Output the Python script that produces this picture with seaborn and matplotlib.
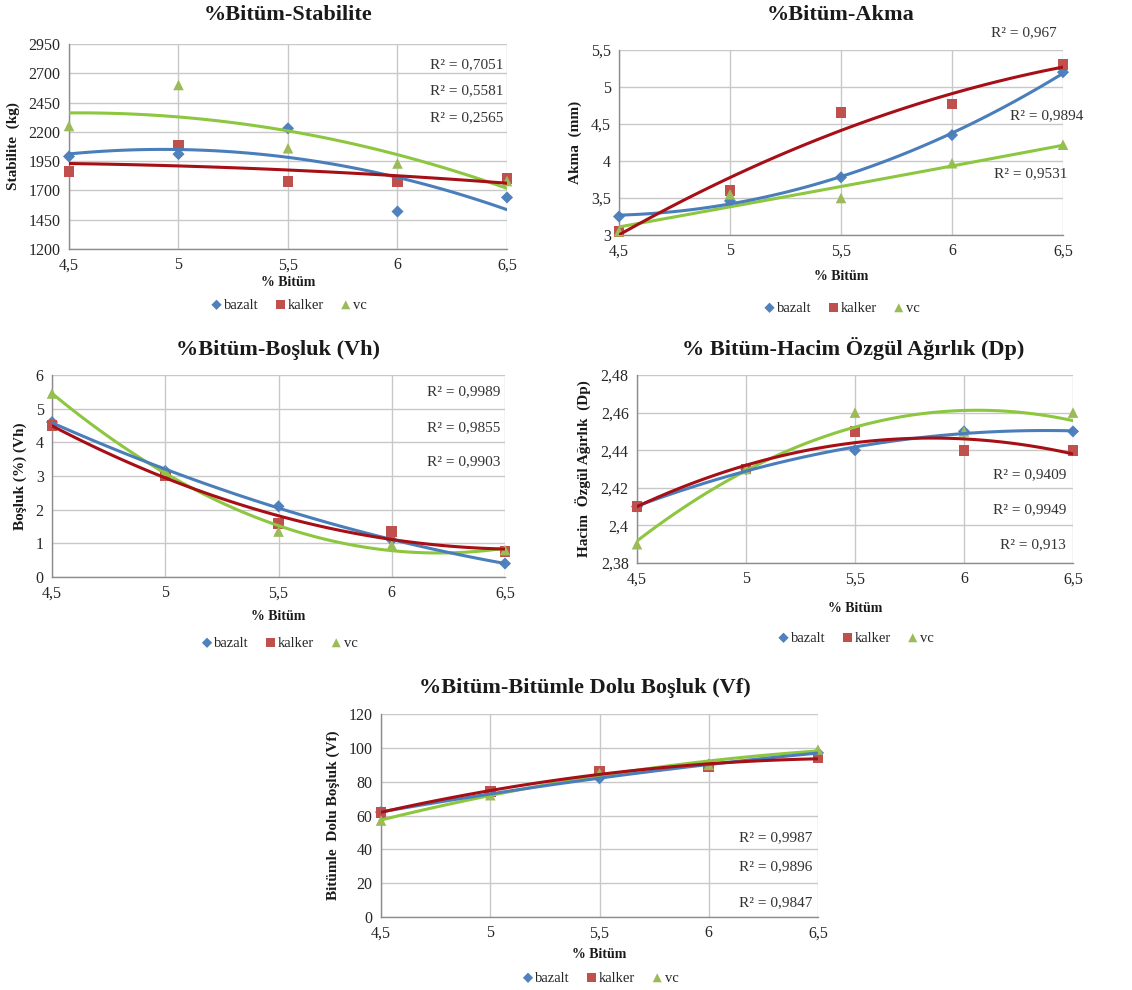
import numpy as np
import pandas as pd
import matplotlib
matplotlib.use("Agg")
import matplotlib.pyplot as plt
import seaborn as sns
from matplotlib.ticker import FuncFormatter, MultipleLocator, FixedLocator

# X values (% Bitüm)
bitum = [4.5, 5.0, 5.5, 6.0, 6.5]

# Stabilite (kg)
stab_bazalt = [1990, 2010, 2230, 1520, 1640]
stab_kalker = [1860, 2080, 1780, 1780, 1800]
stab_vc = [2250, 2600, 2060, 1930, 1780]
stab_r2 = ["0,7051", "0,5581", "0,2565"]

# Akma (mm)
akma_bazalt = [3.25, 3.46, 3.78, 4.35, 5.2]
akma_kalker = [3.05, 3.6, 4.65, 4.77, 5.3]
akma_vc = [3.05, 3.55, 3.5, 3.97, 4.22]
akma_r2 = ["0,967", "0,9894", "0,9531"]

# Boşluk (Vh)
vh_bazalt = [4.6, 3.15, 2.1, 1.1, 0.4]
vh_kalker = [4.5, 3.0, 1.6, 1.35, 0.75]
vh_vc = [5.45, 3.15, 1.35, 0.95, 0.8]
vh_r2 = ["0,9989", "0,9855", "0,9903"]

# Hacim Özgül Ağırlık (Dp)
dp_bazalt = [2.41, 2.43, 2.44, 2.45, 2.45]
dp_kalker = [2.41, 2.43, 2.45, 2.44, 2.44]
dp_vc = [2.39, 2.43, 2.46, 2.45, 2.46]
dp_r2 = ["0,9409", "0,9949", "0,913"]

# Bitümle Dolu Boşluk (Vf)
vf_bazalt = [62, 73, 82, 90, 97]
vf_kalker = [62, 74, 86, 89, 94]
vf_vc = [57, 72, 85, 90, 99]
vf_r2 = ["0,9987", "0,9896", "0,9847"]

W, H = 1132, 990
SERIF = ["Liberation Serif", "DejaVu Serif"]

sns.set_theme(style="white")
plt.rcParams["font.family"] = SERIF

marker_colors = {"bazalt": "#4F81BD", "kalker": "#C0504D", "vc": "#9BBB59"}
line_colors = {"bazalt": "#4A7EBB", "kalker": "#A50F15", "vc": "#8DC63F"}
markers = {"bazalt": "D", "kalker": "s", "vc": "^"}
sizes = {"bazalt": 38, "kalker": 62, "vc": 58}


def comma(v, pos=None):
    s = f"{round(v, 6):g}"
    return s.replace(".", ",")


def make_axes(left, top, right, bottom):
    return fig.add_axes([left / W, 1 - bottom / H, (right - left) / W, (bottom - top) / H])


def draw(ax, box, series, ylim, ystep, title, ylabel, r2, r2_pos,
         title_y, xlabel_y, legend_y, title_x=None):
    left, top, right, bottom = box
    df = pd.DataFrame({
        "x": bitum * 3,
        "y": series[0] + series[1] + series[2],
        "malzeme": ["bazalt"] * 5 + ["kalker"] * 5 + ["vc"] * 5,
    })
    for name in ["bazalt", "kalker", "vc"]:
        sub = df[df.malzeme == name]
        sns.scatterplot(data=sub, x="x", y="y", marker=markers[name],
                        color=marker_colors[name], s=sizes[name],
                        edgecolor="none", ax=ax, zorder=3, clip_on=False,
                        label=name)
    for name in ["vc", "bazalt", "kalker"]:
        sub = df[df.malzeme == name]
        sns.regplot(data=sub, x="x", y="y", order=2, ci=None, scatter=False,
                    ax=ax, line_kws=dict(color=line_colors[name], lw=2.2, zorder=4))

    ax.set_xlim(4.5, 6.5)
    ax.set_ylim(*ylim)
    ax.xaxis.set_major_locator(MultipleLocator(0.5))
    ax.yaxis.set_major_locator(FixedLocator(np.arange(ylim[0], ylim[1] + ystep / 2, ystep)))
    ax.xaxis.set_major_formatter(FuncFormatter(comma))
    ax.yaxis.set_major_formatter(FuncFormatter(comma))
    ax.grid(True, color="#C8C8C8", lw=1)
    ax.set_axisbelow(True)
    for s in ["top", "right"]:
        ax.spines[s].set_visible(False)
    for s in ["left", "bottom"]:
        ax.spines[s].set_color("#8C8C8C")
        ax.spines[s].set_linewidth(1)
    ax.tick_params(axis="both", labelsize=11.5, length=0, pad=6, colors="#404040")
    for lab in ax.get_xticklabels() + ax.get_yticklabels():
        lab.set_color("#262626")
    ax.set_xlabel("")
    ax.set_ylabel(ylabel, fontsize=11, fontweight="bold", color="#1a1a1a", labelpad=6)

    cx = (left + right) / 2 if title_x is None else title_x
    fig.text(cx / W, 1 - title_y / H, title, ha="center", va="center",
             fontsize=16, fontweight="bold", color="#1a1a1a")
    fig.text((left + right) / 2 / W, 1 - xlabel_y / H, "% Bitüm", ha="center",
             va="center", fontsize=10, fontweight="bold", color="#1a1a1a")
    for txt, (px, py) in zip(r2, r2_pos):
        fig.text(px / W, 1 - py / H, f"R² = {txt}", ha="right", va="center",
                 fontsize=11, color="#333333")

    handles, labels = ax.get_legend_handles_labels()
    ax.legend(handles, labels, loc="center",
              bbox_to_anchor=(((left + right) / 2 - left) / (right - left),
                              (bottom - legend_y) / (bottom - top)),
              ncol=3, frameon=False, fontsize=10.5, handletextpad=0.0,
              columnspacing=1.0, markerscale=0.85, handlelength=1.0)


fig = plt.figure(figsize=(W / 100, H / 100), dpi=100)
fig.patch.set_facecolor("white")

# %Bitüm-Stabilite
box1 = (69, 44, 507, 249)
ax1 = make_axes(*box1)
draw(ax1, box1, [stab_bazalt, stab_kalker, stab_vc], (1200, 2950), 250,
     "%Bitüm-Stabilite", "Stabilite  (kg)", stab_r2,
     [(503, 65), (503, 91), (503, 118)], 15, 283, 305)

# %Bitüm-Akma
box2 = (619, 50, 1063, 235)
ax2 = make_axes(*box2)
draw(ax2, box2, [akma_bazalt, akma_kalker, akma_vc], (3, 5.5), 0.5,
     "%Bitüm-Akma", "Akma  (mm)", akma_r2,
     [(1057, 33), (1083, 116), (1067, 174)], 15, 276, 308)

# %Bitüm-Boşluk (Vh)
box3 = (52, 375, 505, 577)
ax3 = make_axes(*box3)
draw(ax3, box3, [vh_bazalt, vh_kalker, vh_vc], (0, 6), 1,
     "%Bitüm-Boşluk (Vh)", "Boşluk (%) (Vh)", vh_r2,
     [(500, 392), (500, 428), (500, 462)], 350, 616, 643)

# % Bitüm-Hacim Özgül Ağırlık (Dp)
box4 = (637, 375, 1073, 563)
ax4 = make_axes(*box4)
draw(ax4, box4, [dp_bazalt, dp_kalker, dp_vc], (2.38, 2.48), 0.02,
     "% Bitüm-Hacim Özgül Ağırlık (Dp)", "Hacim  Özgül Ağırlık  (Dp)", dp_r2,
     [(1066, 475), (1066, 510), (1066, 545)], 348, 608, 638, title_x=853)

# %Bitüm-Bitümle Dolu Boşluk (Vf)
box5 = (381, 714, 818, 917)
ax5 = make_axes(*box5)
draw(ax5, box5, [vf_bazalt, vf_kalker, vf_vc], (0, 120), 20,
     "%Bitüm-Bitümle Dolu Boşluk (Vf)", "Bitümle  Dolu Boşluk (Vf)", vf_r2,
     [(812, 838), (812, 867), (812, 903)], 688, 955, 978, title_x=585)

fig.savefig("out.png", dpi=100, facecolor="white")
